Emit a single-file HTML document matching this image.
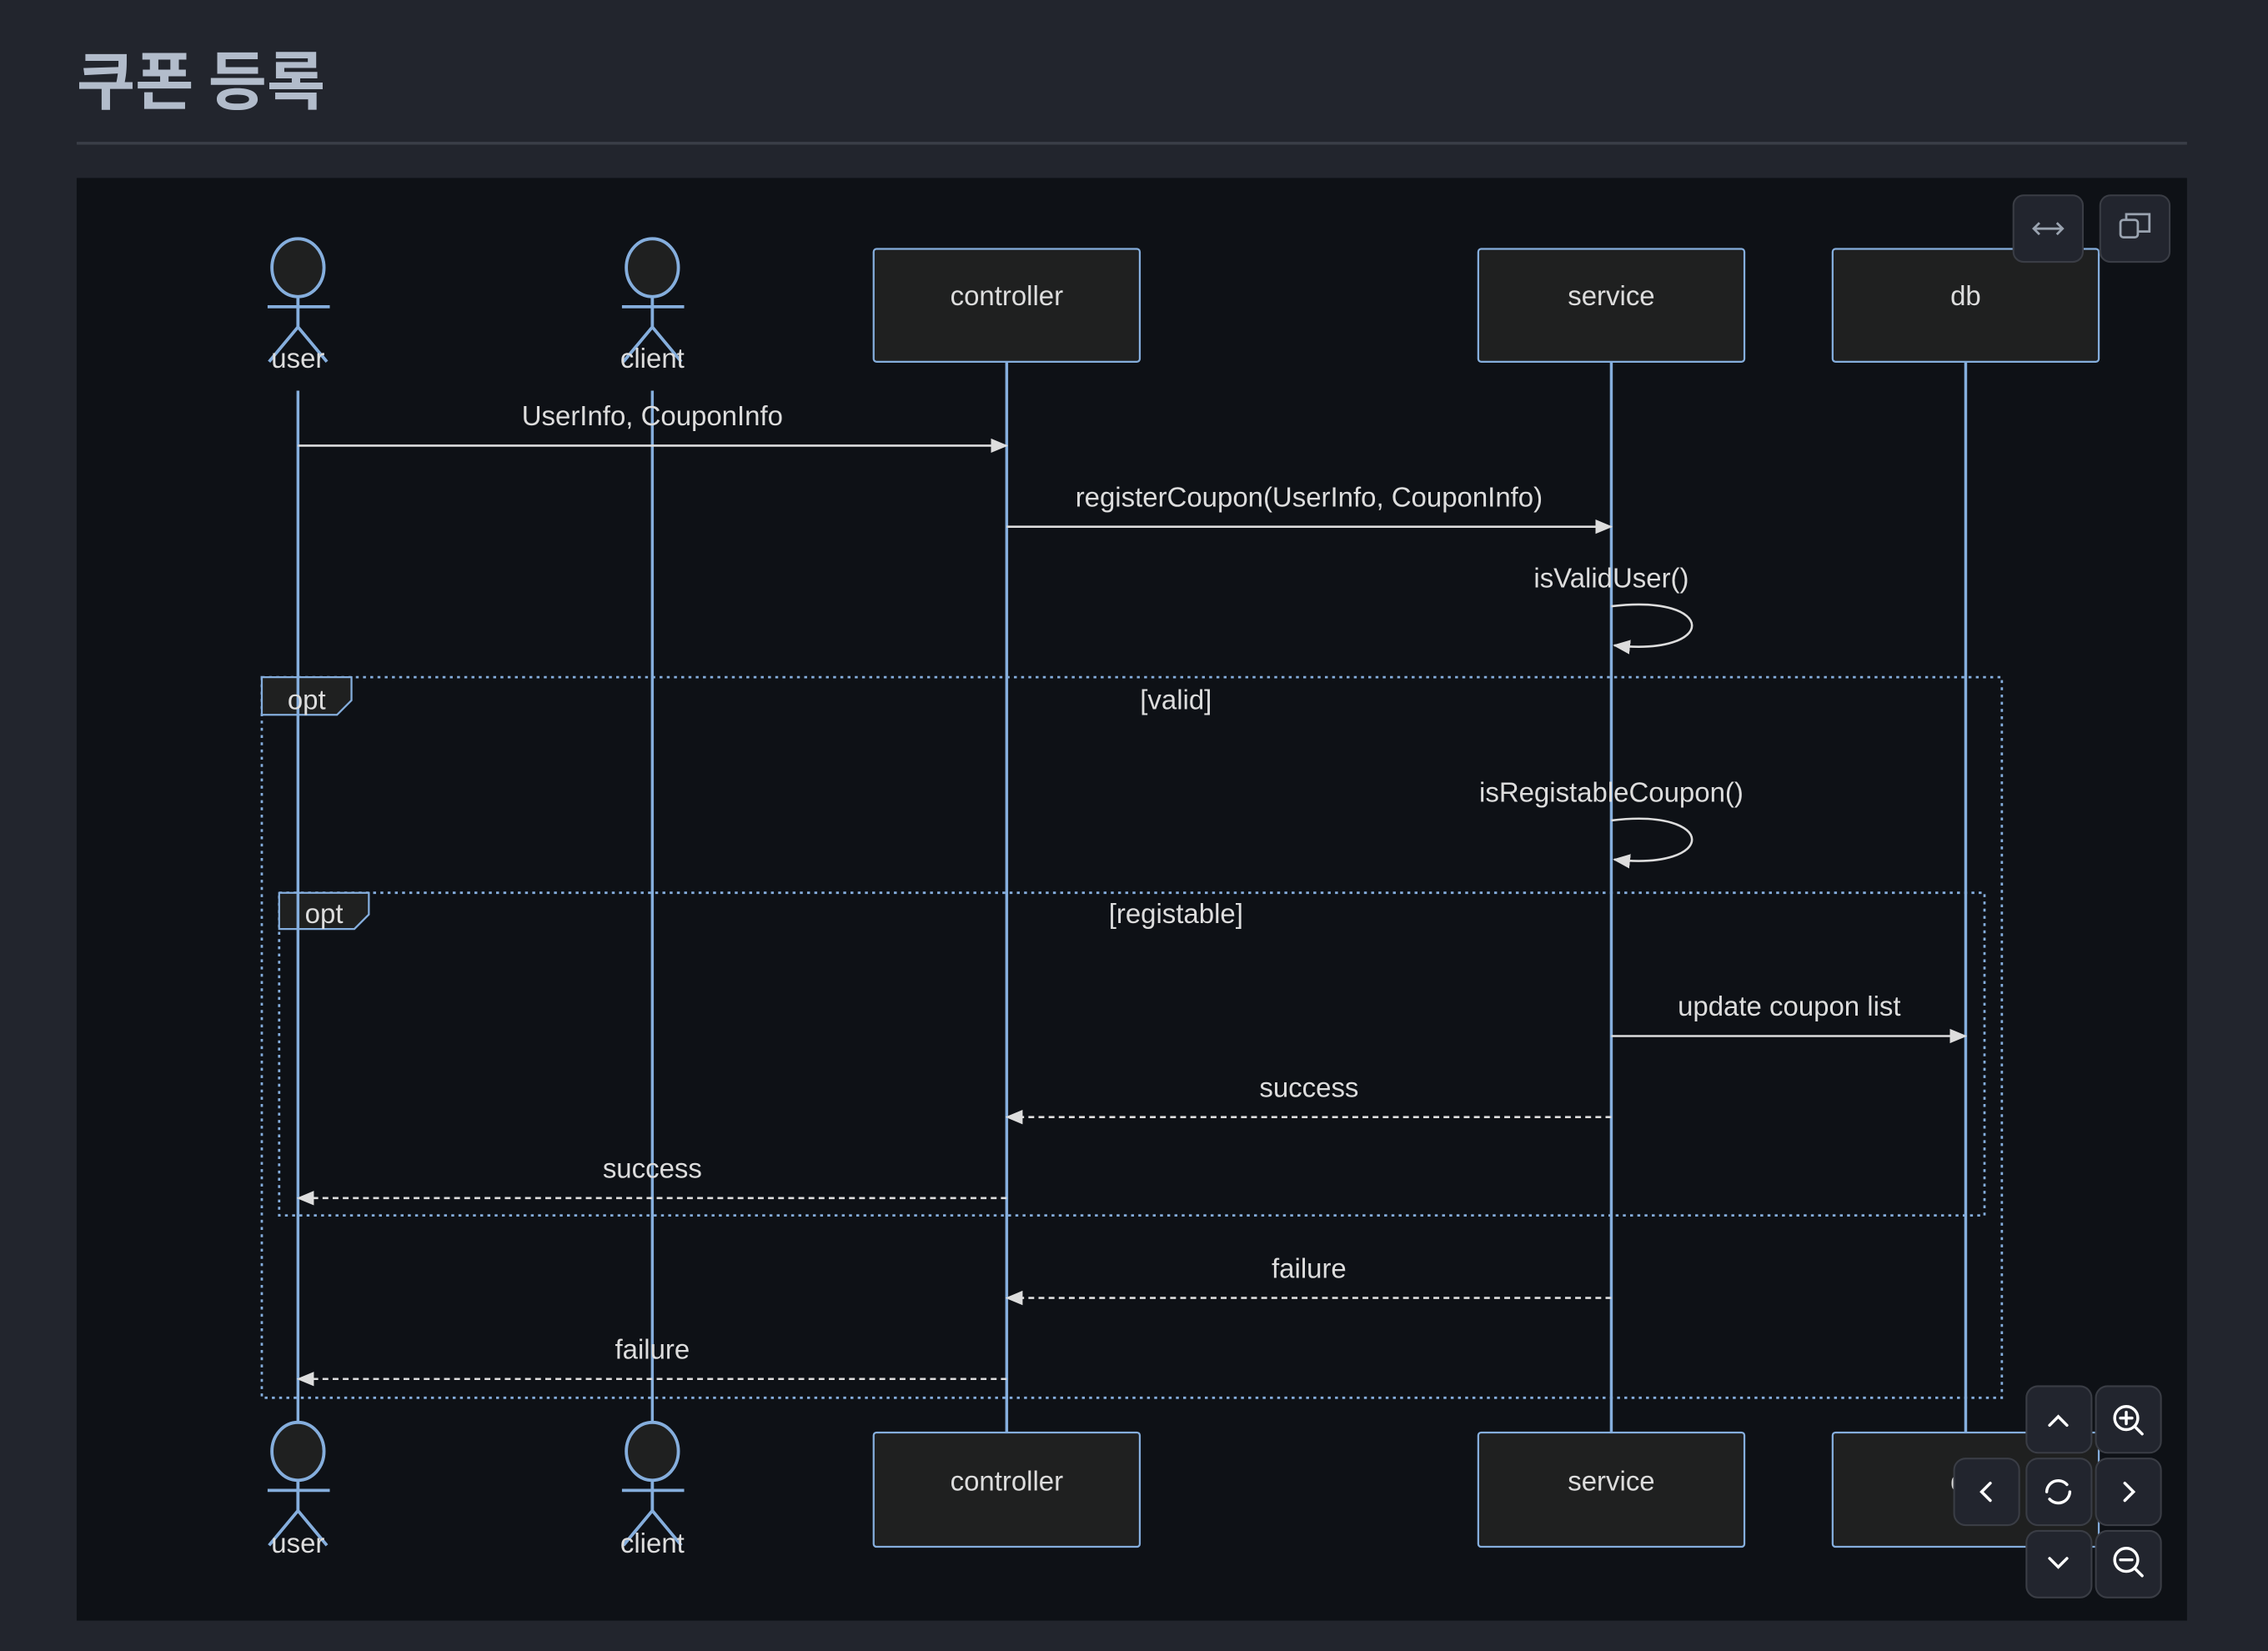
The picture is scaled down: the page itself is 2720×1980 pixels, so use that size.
<!DOCTYPE html>
<html><head><meta charset="utf-8"><style>
html,body{margin:0;padding:0;background:#22252d;}
svg{display:block;}
text{font-family:"Liberation Sans","Noto Sans CJK KR",sans-serif;}
</style></head><body>
<svg width="2720" height="1980" viewBox="0 0 1568 1141" preserveAspectRatio="none" xmlns="http://www.w3.org/2000/svg">
<defs>
<marker id="ah" markerWidth="12" markerHeight="12" refX="11" refY="6" orient="auto" markerUnits="userSpaceOnUse"><path d="M0,1 L12,6 L0,11 z" fill="#dddddd"/></marker>
</defs>
<rect width="1568" height="1141" fill="#22252d"/>
<text x="53" y="72" font-size="44" font-weight="bold" fill="#b2bccb" style="font-family:'Noto Sans CJK KR',sans-serif">쿠폰 등록</text>
<rect x="53" y="98" width="1459" height="2" fill="#3a3e47"/>
<rect x="53" y="123" width="1459" height="997" fill="#0e1116"/>

<g stroke="#85aedd" stroke-width="1.6" fill="none" stroke-dasharray="2,3">
<rect x="181" y="468" width="1203" height="498"/>
<rect x="193" y="617" width="1179" height="223"/>
</g>
<g fill="#1f2020" stroke="#85aedd" stroke-width="1.3">
<path d="M181,468 H243 V484 L233,494 H181 Z"/>
<path d="M193,617 H255 V632 L245,642 H193 Z"/>
</g>

<g stroke="#85aedd" stroke-width="2">
<line x1="206" y1="270" x2="206" y2="985"/>
<line x1="451" y1="270" x2="451" y2="985"/>
<line x1="696" y1="250" x2="696" y2="990"/>
<line x1="1114" y1="250" x2="1114" y2="990"/>
<line x1="1359" y1="250" x2="1359" y2="990"/>
</g>

<g fill="#1f2020" stroke="#85aedd" stroke-width="1.3">
<rect x="604" y="172" width="184" height="78" rx="2"/>
<rect x="1022" y="172" width="184" height="78" rx="2"/>
<rect x="1267" y="172" width="184" height="78" rx="2"/>
<rect x="604" y="990" width="184" height="79" rx="2"/>
<rect x="1022" y="990" width="184" height="79" rx="2"/>
<rect x="1267" y="990" width="184" height="79" rx="2"/>
</g>

<g stroke="#85aedd" stroke-width="2.2" fill="#1f2020">
<ellipse cx="206" cy="185" rx="18" ry="20"/>
<ellipse cx="451" cy="185" rx="18" ry="20"/>
<ellipse cx="206" cy="1003" rx="18" ry="20"/>
<ellipse cx="451" cy="1003" rx="18" ry="20"/>
<path d="M206,205 V226 M185,212 H228 M206,226 L186,250 M206,226 L226,250" fill="none"/>
<path d="M451,205 V226 M430,212 H473 M451,226 L431,250 M451,226 L471,250" fill="none"/>
<path d="M206,1023 V1044 M185,1030 H228 M206,1044 L186,1068 M206,1044 L226,1068" fill="none"/>
<path d="M451,1023 V1044 M430,1030 H473 M451,1044 L431,1068 M451,1044 L471,1068" fill="none"/>
</g>

<g fill="#dddddd" font-size="19" text-anchor="middle">
<text x="206" y="254">user</text>
<text x="451" y="254">client</text>
<text x="206" y="1073">user</text>
<text x="451" y="1073">client</text>
<text x="696" y="211">controller</text>
<text x="1114" y="211">service</text>
<text x="1359" y="211">db</text>
<text x="696" y="1030">controller</text>
<text x="1114" y="1030">service</text>
<text x="1359" y="1030">db</text>
<text x="212" y="490">opt</text>
<text x="224" y="638">opt</text>
<text x="813" y="490">[valid]</text>
<text x="813" y="638">[registable]</text>
<text x="451" y="294">UserInfo, CouponInfo</text>
<text x="905" y="350">registerCoupon(UserInfo, CouponInfo)</text>
<text x="1114" y="406">isValidUser()</text>
<text x="1114" y="554">isRegistableCoupon()</text>
<text x="1237" y="702">update coupon list</text>
<text x="905" y="758">success</text>
<text x="451" y="814">success</text>
<text x="905" y="883">failure</text>
<text x="451" y="939">failure</text>
</g>

<g stroke="#dddddd" stroke-width="1.5" fill="none" marker-end="url(#ah)">
<line x1="206" y1="308" x2="696" y2="308"/>
<line x1="696" y1="364" x2="1114" y2="364"/>
<path d="M1114,419 C1188,410 1188,454 1116,446"/>
<path d="M1114,567 C1188,558 1188,602 1116,594"/>
<line x1="1114" y1="716" x2="1359" y2="716"/>
<g stroke-dasharray="4,3">
<line x1="1114" y1="772" x2="696" y2="772"/>
<line x1="696" y1="828" x2="206" y2="828"/>
<line x1="1114" y1="897" x2="696" y2="897"/>
<line x1="696" y1="953" x2="206" y2="953"/>
</g>
</g>

<g fill="#22252e" stroke="#3a3d45" stroke-width="1.2">
<rect x="1392" y="135" width="48" height="46" rx="7"/>
<rect x="1452" y="135" width="48" height="46" rx="7"/>
<rect x="1401" y="958" width="45" height="46" rx="8"/>
<rect x="1449" y="958" width="45" height="46" rx="8"/>
<rect x="1351" y="1008" width="45" height="46" rx="8"/>
<rect x="1401" y="1008" width="45" height="46" rx="8"/>
<rect x="1449" y="1008" width="45" height="46" rx="8"/>
<rect x="1401" y="1058" width="45" height="46" rx="8"/>
<rect x="1449" y="1058" width="45" height="46" rx="8"/>
</g>
<g stroke="#9aa3b0" stroke-width="1.6" fill="none">
<path d="M1406,158 H1426 M1410,154 L1406,158 L1410,162 M1422,154 L1426,158 L1422,162"/>
<rect x="1466" y="152" width="12" height="12" rx="2"/>
<path d="M1470,152 V148 H1486 V160 H1478"/>
</g>
<g stroke="#ffffff" stroke-width="2" fill="none" stroke-linecap="round">
<path d="M1417,985 L1423,979 L1429,985"/>
<path d="M1417,1077 L1423,1083 L1429,1077"/>
<path d="M1376,1025 L1370,1031 L1376,1037"/>
<path d="M1469,1025 L1475,1031 L1469,1037"/>
<circle cx="1470" cy="980" r="8"/><path d="M1476,986 L1481,991 M1466,980 H1474 M1470,976 V984"/>
<circle cx="1470" cy="1078" r="8"/><path d="M1476,1084 L1481,1089 M1466,1078 H1474"/>
<path d="M1431,1031 A8,8 0 0 1 1417,1036 M1415,1031 A8,8 0 0 1 1429,1026"/>
</g>
</svg>
</body></html>
